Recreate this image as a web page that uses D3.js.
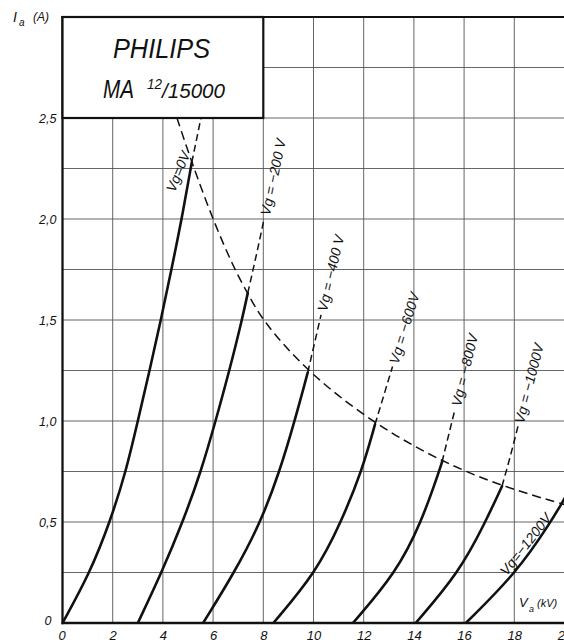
<!DOCTYPE html>
<html><head><meta charset="utf-8">
<script src="https://cdn.jsdelivr.net/npm/d3@7"></script>
<style>html,body{margin:0;padding:0;background:#fff;}svg{display:block;}</style>
</head><body>
<svg id="c" width="564" height="643"></svg>
<script>
// ---------- data ----------
const xTicks = [0,2,4,6,8,10,12,14,16,18,20];
const xTickLabels = ["0","2","4","6","8","10","12","14","16","18","20"];
const yTicks = [0,0.5,1.0,1.5,2.0,2.5];
const yTickLabels = ["0","0,5","1,0","1,5","2,0","2,5"];
const gridX = [2,4,6,8,10,12,14,16,18,20];
const gridY = [0.25,0.5,0.75,1.0,1.25,1.5,1.75,2.0,2.25,2.5,2.75];

const vgNames = ["Vg=0V","Vg = −200 V","Vg = −400 V","Vg = −600V","Vg = −800V","Vg = −1000V","Vg=−1200V"];

// solid parts (Va kV, Ia A)
const vg0Solid    = [[0,0],[1.1,0.25],[1.89,0.5],[2.53,0.75],[3.0,1.0],[3.47,1.25],[3.92,1.5],[4.34,1.75],[4.75,2.0],[5.15,2.28]];
const vg200Solid  = [[3.0,0],[3.95,0.25],[4.79,0.5],[5.52,0.75],[6.1,1.0],[6.65,1.25],[7.15,1.5],[7.38,1.633]];
const vg400Solid  = [[5.6,0],[6.85,0.25],[7.9,0.5],[8.65,0.75],[9.25,1.0],[9.77,1.24]];
const vg600Solid  = [[8.4,0],[10.1,0.25],[11.1,0.5],[11.92,0.75],[12.45,0.983]];
const vg800Solid  = [[11.57,0],[13.3,0.25],[14.3,0.5],[15.0,0.75],[15.12,0.797]];
const vg1000Solid = [[14.07,0],[15.8,0.25],[16.85,0.5],[17.51,0.677]];
const vg1200Solid = [[16.07,0],[18.1,0.25],[19.45,0.5],[19.88,0.59],[20.3,0.68]];

// dashed continuations
const vg0Dashed    = [[5.15,2.28],[5.55,2.52]];
const vg200Dashed  = [[7.38,1.633],[7.72,1.82],[8.03,2.0]];
const vg400Dashed  = [[9.77,1.24],[10.3,1.525]];
const vg600Dashed  = [[12.45,0.983],[13.15,1.27]];
const vg800Dashed  = [[15.12,0.797],[15.64,1.06]];
const vg1000Dashed = [[17.51,0.677],[17.85,0.83],[18.15,0.976]];
const vg1200Dashed = [];

// limit (anode dissipation) curve
const limitCurve = [[4.56,2.5],[5.15,2.28],[5.98,2.0],[6.85,1.75],[7.38,1.633],[7.94,1.5],[9.77,1.24],[12.45,0.983],[15.12,0.797],[17.51,0.677],[19.88,0.59],[20.5,0.57]];

// ---------- layout ----------
const svg = d3.select("#c");
const FONT = "'Liberation Sans', Arial, sans-serif";
const x = d3.scaleLinear().domain([0,20]).range([62.5,564.5]);
const y = d3.scaleLinear().domain([0,3]).range([623,17]);

svg.append("rect").attr("width",564).attr("height",643).attr("fill","#fff");

svg.append("defs").append("clipPath").attr("id","plot")
  .append("rect").attr("x",x(0)).attr("y",y(3)).attr("width",x(20)-x(0)).attr("height",y(0)-y(3));

// grid
const grid = svg.append("g").attr("stroke","#555").attr("stroke-width",0.9);
grid.selectAll("line.v").data(gridX).join("line")
  .attr("x1",d=>x(d)).attr("x2",d=>x(d)).attr("y1",y(0)).attr("y2",y(3));
grid.selectAll("line.h").data(gridY).join("line")
  .attr("x1",x(0)).attr("x2",x(20)).attr("y1",d=>y(d)).attr("y2",d=>y(d));

const plot = svg.append("g").attr("clip-path","url(#plot)");

const smooth = d3.line().x(d=>x(d[0])).y(d=>y(d[1])).curve(d3.curveBasis);
const straight = d3.line().x(d=>x(d[0])).y(d=>y(d[1])).curve(d3.curveMonotoneY);

// limit curve
plot.append("path").datum(limitCurve).attr("d",smooth)
  .attr("fill","none").attr("stroke","#111").attr("stroke-width",1.5).attr("stroke-dasharray","9,5");

const solids = [vg0Solid,vg200Solid,vg400Solid,vg600Solid,vg800Solid,vg1000Solid,vg1200Solid];
const dashes = [vg0Dashed,vg200Dashed,vg400Dashed,vg600Dashed,vg800Dashed,vg1000Dashed,vg1200Dashed];

plot.selectAll("path.solid").data(solids).join("path").attr("class","solid")
  .attr("d",smooth).attr("fill","none").attr("stroke","#111").attr("stroke-width",2.6).attr("stroke-linecap","round");
plot.selectAll("path.dash").data(dashes.filter(d=>d.length)).join("path").attr("class","dash")
  .attr("d",straight).attr("fill","none").attr("stroke","#111").attr("stroke-width",1.5).attr("stroke-dasharray","7,4");

// curve labels
const labelLayout = [
  {mode:"fixed", at:[4.6,2.235], angle:-68},
  {mode:"along", gap:4},
  {mode:"along", gap:4},
  {mode:"along", gap:3},
  {mode:"along", gap:3},
  {mode:"along", gap:3},
  {mode:"fixed", at:[18.45,0.39], angle:-52}
];
const lg = svg.append("g").attr("font-family",FONT).attr("font-style","italic").attr("font-size",14).attr("fill","#111");
vgNames.forEach((name,i)=>{
  const L = labelLayout[i];
  const t = lg.append("text").attr("text-anchor","middle").attr("dominant-baseline","central").text(name);
  const w = t.node().getComputedTextLength();
  let cx, cy, ang;
  if (L.mode==="fixed") {
    cx = x(L.at[0]); cy = y(L.at[1]); ang = L.angle;
  } else {
    const d = dashes[i];
    const p1 = d[d.length-2], p2 = d[d.length-1];
    const ax = x(p2[0]), ay = y(p2[1]);
    const vx = ax - x(p1[0]), vy = ay - y(p1[1]);
    const len = Math.hypot(vx,vy);
    const ux = vx/len, uy = vy/len;
    cx = ax + ux*(w/2+L.gap); cy = ay + uy*(w/2+L.gap);
    ang = Math.atan2(vy,vx)*180/Math.PI;
  }
  t.attr("transform",`translate(${cx},${cy}) rotate(${ang})`);
});

// axes (labels only)
const xAxis = d3.axisBottom(x).tickValues(xTicks).tickFormat((d,i)=>xTickLabels[i]).tickSize(0).tickPadding(8);
const gx = svg.append("g").attr("transform",`translate(0,${y(0)})`).call(xAxis);
gx.select(".domain").remove();
gx.selectAll("text").attr("font-family",FONT).attr("font-style","italic").attr("font-size",13).attr("fill","#111");
gx.selectAll(".tick").filter(d=>d===0).select("text").attr("dx",-1);

const yAxis = d3.axisLeft(y).tickValues(yTicks).tickFormat((d,i)=>yTickLabels[i]).tickSize(0).tickPadding(6);
const gy = svg.append("g").attr("transform",`translate(${x(0)},0)`).call(yAxis);
gy.select(".domain").remove();
gy.selectAll("text").attr("font-family",FONT).attr("font-style","italic").attr("font-size",12.5).attr("fill","#111");
gy.selectAll(".tick").filter(d=>d===0).select("text").attr("dx",-5).attr("dy","0.1em");

// frame lines
svg.append("line").attr("x1",x(0)).attr("x2",x(0)).attr("y1",y(3)-1).attr("y2",y(0)+1.2).attr("stroke","#111").attr("stroke-width",2.3);
svg.append("line").attr("x1",x(0)-1).attr("x2",x(20)).attr("y1",y(0)).attr("y2",y(0)).attr("stroke","#111").attr("stroke-width",2.5);
svg.append("line").attr("x1",x(0)-1).attr("x2",x(20)).attr("y1",y(3)).attr("y2",y(3)).attr("stroke","#111").attr("stroke-width",2.2);

// title box
svg.append("rect").attr("x",x(0)).attr("y",y(3)).attr("width",x(8)-x(0)).attr("height",y(2.5)-y(3))
  .attr("fill","#fff").attr("stroke","#111").attr("stroke-width",2.2);
const tb = svg.append("g").attr("font-family",FONT).attr("font-style","italic").attr("fill","#111");
tb.append("text").attr("x",113).attr("y",58).attr("font-size",27).attr("textLength",97).attr("lengthAdjust","spacingAndGlyphs").text("PHILIPS");
tb.append("text").attr("x",103).attr("y",98).attr("font-size",25).attr("textLength",31).attr("lengthAdjust","spacingAndGlyphs").text("MA");
tb.append("text").attr("x",147).attr("y",89).attr("font-size",14).attr("textLength",15).attr("lengthAdjust","spacingAndGlyphs").text("12");
tb.append("text").attr("x",162).attr("y",98).attr("font-size",20).attr("textLength",63).attr("lengthAdjust","spacingAndGlyphs").text("/15000");

// axis titles
const at = svg.append("g").attr("font-family",FONT).attr("font-style","italic").attr("fill","#111");
at.append("text").attr("x",13).attr("y",22).attr("font-size",14).text("I");
at.append("text").attr("x",19).attr("y",26).attr("font-size",10).text("a");
at.append("text").attr("x",33).attr("y",21).attr("font-size",12).text("(A)");
at.append("text").attr("x",519).attr("y",607).attr("font-size",13).text("V");
at.append("text").attr("x",529).attr("y",612).attr("font-size",9).text("a");
at.append("text").attr("x",537).attr("y",607).attr("font-size",11).text("(kV)");
</script>
</body></html>
